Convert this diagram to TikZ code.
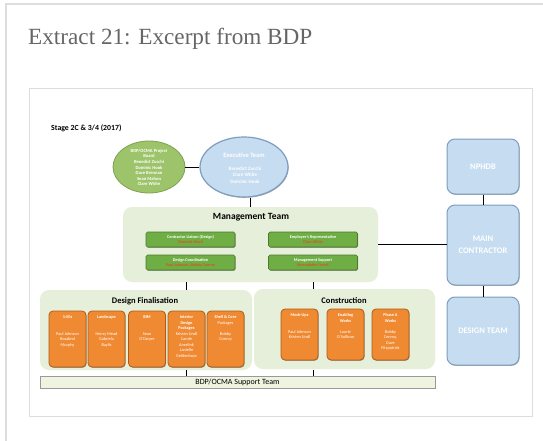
\documentclass[tikz,border=0pt]{standalone}
\usepackage{fontspec}
\setmainfont{Carlito}
\newfontfamily\headfont{Liberation Serif}
\usetikzlibrary{shapes.geometric,shadows}

\definecolor{framegray}{HTML}{DDDDDD}
\definecolor{titlegray}{HTML}{666666}
\definecolor{panelgreen}{HTML}{E6EFD9}
\definecolor{boardfill}{HTML}{9DC46B}
\definecolor{boarddraw}{HTML}{7DA14E}
\definecolor{skyfill}{HTML}{C6DCF0}
\definecolor{skydraw}{HTML}{7F9DBF}
\definecolor{barfill}{HTML}{6FAE45}
\definecolor{bardraw}{HTML}{4C7A2C}
\definecolor{namered}{HTML}{D9541E}
\definecolor{orangefill}{HTML}{F08A32}
\definecolor{orangedraw}{HTML}{AE5A16}
\definecolor{supportfill}{HTML}{EEF4E0}

\begin{document}
\begin{tikzpicture}[x=1pt,y=-1pt,
  softshadow/.style={drop shadow={shadow xshift=0.6pt,shadow yshift=-0.8pt,opacity=0.35,fill=black}},
  panel/.style={rectangle,rounded corners=9pt,fill=panelgreen,inner sep=0pt},
  paneltitle/.style={font=\bfseries\fontsize{8.5}{10}\selectfont,inner sep=0pt},
  oval/.style={ellipse,inner sep=0pt},
  boardtxt/.style={text=white,font=\bfseries\fontsize{4.6}{5.6}\selectfont,align=center,inner sep=0pt},
  rolebar/.style={rectangle,rounded corners=1.5pt,fill=barfill,draw=bardraw,line width=0.7pt,
    minimum width=89pt,minimum height=15pt,inner sep=0pt,align=center,
    font=\bfseries\fontsize{4.2}{4.8}\selectfont,text=white,softshadow},
  workbox/.style={rectangle,rounded corners=4pt,fill=orangefill,draw=orangedraw,line width=0.8pt,
    minimum width=37pt,minimum height=56pt,inner sep=0pt,softshadow},
  worktxt/.style={text=white,font=\fontsize{4.3}{5.5}\selectfont,align=center,inner sep=0pt,anchor=north},
  sidebox/.style={rectangle,rounded corners=8pt,fill=skyfill,draw=skydraw,line width=1pt,
    minimum width=72pt,inner sep=0pt,text=white,align=center,
    font=\bfseries\fontsize{8.5}{12}\selectfont,softshadow},
  link/.style={draw=black,line width=0.8pt}
]
% page and frames
\fill[white] (0,0) rectangle (543,441);
\useasboundingbox (0,0) rectangle (543,441);
\draw[framegray,line width=1.5pt] (6,441) -- (6,4) -- (543,4);
\node[anchor=base west,inner sep=0pt,text=titlegray,font=\headfont\fontsize{23.2}{26}\selectfont] (title) at (28,45) {Extract 21: Excerpt from BDP};
\draw[framegray,line width=1pt,fill=white] (29,89) rectangle (532,416);

\node[anchor=base west,inner sep=0pt,font=\bfseries\fontsize{7.8}{9}\selectfont] (stage) at (51,130) {Stage 2C \& 3/4 (2017)};

% board and executive
\node[oval,fill=boardfill,draw=boarddraw,line width=0.8pt,minimum width=72pt,minimum height=52pt] (board) at (149,167) {};
\node[boardtxt] (boardtext) at (149,167.5) {BDP/OCMA Project\\Board\\Benedict Zucchi\\Dominic Hook\\Dave Brennan\\Sean Mahon\\Clare White};
\node[oval,fill=skyfill,draw=skydraw,line width=1.2pt,minimum width=88pt,minimum height=60pt,softshadow] (exec) at (244,167) {};
\node[text=white,font=\bfseries\fontsize{6.5}{8}\selectfont,inner sep=0pt] (exectitle) at (244,155) {Executive Team};
\node[text=white,font=\bfseries\fontsize{5}{6.6}\selectfont,align=center,inner sep=0pt] (execnames) at (245,175) {Benedict Zucchi\\Clare White\\Dominic Hook};
\draw[link] (board.east) -- (exec.west);

% management team
\node[panel,minimum width=255pt,minimum height=75pt] (mgmt) at (250.5,244.5) {};
\node[paneltitle,font=\bfseries\fontsize{9.5}{11}\selectfont] (mgmttitle) at (251,217) {Management Team};
\node[rolebar] (liaison) at (190.5,239.5) {Contractor Liaison (Design)\\\textcolor{namered}{Dominic Hook}};
\node[rolebar] (employer) at (313,239.5) {Employer's Representative\\\textcolor{namered}{Clare White}};
\node[rolebar] (coord) at (190.5,262.5) {Design Coordination\\\textcolor{namered}{Paul Johnson, Bobby Conroy}};
\node[rolebar] (support) at (313,262.5) {Management Support\\\textcolor{namered}{Bernadette Farrell}};
\coordinate (mgtop) at (250,207);
\draw[link] (exec.south -| mgtop) -- (mgtop);

% design finalisation and construction
\node[panel,minimum width=212pt,minimum height=80pt] (design) at (146,330) {};
\node[paneltitle] (designtitle) at (145,301) {Design Finalisation};
\node[panel,minimum width=181pt,minimum height=80pt] (constr) at (344.5,329) {};
\node[paneltitle] (constrtitle) at (344,301) {Construction};
\coordinate (dtop) at (186,290);
\coordinate (ctop) at (313,289);
\draw[link] (mgmt.south -| dtop) -- (dtop);
\draw[link] (mgmt.south -| ctop) -- (ctop);

\node[workbox] (w1) at (67.5,339) {};
\node[workbox] (w2) at (106.5,339) {};
\node[workbox] (w3) at (147,339) {};
\node[workbox] (w4) at (186.5,339) {};
\node[workbox] (w5) at (225.5,339) {};
\node[worktxt,yshift=-5pt] (t1) at (w1.north) {\textbf{1:50s}\\[11pt]Paul Johnson\\Rosalind\\Murphy};
\node[worktxt,yshift=-5pt] (t2) at (w2.north) {\textbf{Landscape}\\[11pt]Henry Mead\\Gabriela\\Baylis};
\node[worktxt,yshift=-5pt] (t3) at (w3.north) {\textbf{BIM}\\[11pt]Sean\\O'Dwyer};
\node[worktxt,yshift=-5pt] (t4) at (w4.north) {\textbf{Interior}\\\textbf{Design}\\\textbf{Packages}\\Kristen Lindl\\Carole\\Anselink\\Lanielle\\Geldenhuys};
\node[worktxt,yshift=-5pt] (t5) at (w5.north) {\textbf{Shell \& Core}\\Packages\\[5.5pt]Bobby\\Conroy};

\node[workbox,minimum height=51pt] (c1) at (299.5,334.5) {};
\node[workbox,minimum height=51pt] (c2) at (345.5,334.5) {};
\node[workbox,minimum height=51pt] (c3) at (390.5,334.5) {};
\node[worktxt,yshift=-5pt] (u1) at (c1.north) {\textbf{Mock-Ups}\\[11pt]Paul Johnson\\Kristen Lindl};
\node[worktxt,yshift=-5pt] (u2) at (c2.north) {\textbf{Enabling}\\\textbf{Works}\\[5.5pt]Laurie\\O'Sullivan};
\node[worktxt,yshift=-5pt] (u3) at (c3.north) {\textbf{Phase A}\\\textbf{Works}\\[5.5pt]Bobby\\Conroy,\\Dave\\Fitzpatrick};

% support team
\node[rectangle,fill=supportfill,draw=black!40,line width=0.6pt,minimum width=395pt,minimum height=12pt,inner sep=0pt,
  font=\fontsize{8}{9}\selectfont,softshadow] (supteam) at (237.5,382) {BDP/OCMA Support Team};
\coordinate (dbot) at (186,370);
\coordinate (cbot) at (313,370);
\draw[link] (dbot) -- (supteam.north -| dbot);
\draw[link] (cbot) -- (supteam.north -| cbot);

% right column
\node[sidebox,minimum height=55pt] (nphdb) at (483,166.5) {NPHDB};
\node[sidebox,minimum height=80pt] (main) at (483,245) {MAIN\\CONTRACTOR};
\node[sidebox,minimum height=68pt] (dteam) at (483,331) {DESIGN TEAM};
\draw[link] (nphdb.south) -- (main.north);
\draw[link] (main.south) -- (dteam.north);
\draw[link] (mgmt.east) -- (mgmt.east -| main.west);
\end{tikzpicture}
\end{document}
